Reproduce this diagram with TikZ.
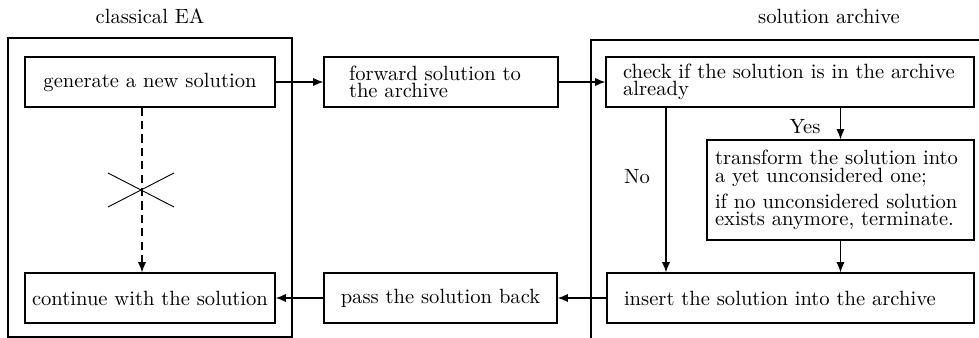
\documentclass[tikz,border=0pt]{standalone}
\usetikzlibrary{arrows.meta}
\def\px{0.4854pt}
\tikzset{
  box/.style={draw, line width=0.6pt, minimum height={50*\px}, inner ysep=0pt,
              font=\linespread{0.7}\selectfont},
  arr/.style={line width=0.6pt, -{Latex[length=5pt,width=4pt]}},
  lbl/.style={inner sep=0pt},
  frame/.style={line width=0.6pt},
}
\begin{document}
\begin{tikzpicture}[x=\px,y=-\px]
\clip (0,0) rectangle (979,338);
% titles
\node[lbl, anchor=base] (t1) at (150,24) {classical EA};
\node[lbl, anchor=base] (t2) at (829,24) {solution archive};
% containers
\draw[frame] (8,38) rectangle (292,337);
\draw[frame] (1100,40) -- (591,40) -- (591,345);
% nodes
\node[box, minimum width={250*\px}] (gen) at (150,82) {generate a new solution};
\node[box, minimum width={250*\px}] (cont) at (150,298) {continue with the solution};
\node[box, text width={184*\px}, inner xsep={25*\px}, align=left] (fwd) at (441,82)
  {forward solution to\\the archive};
\node[box, minimum width={233*\px}] (pass) at (440.5,298) {pass the solution back};
\node[box, text width={334*\px}, inner xsep={17*\px}, align=left] (chk) at (790,82)
  {check if the solution is in the archive\\already};
\node[box, text width={251*\px}, inner xsep={8*\px}, minimum height={100*\px}, align=left] (tr) at (840.5,190)
  {transform the solution into\\a yet unconsidered one;\\[2.6pt]if no unconsidered solution\\exists anymore, terminate.};
\node[box, text width={333*\px}, inner xsep={17*\px}, align=left] (ins) at (790.5,298)
  {insert the solution into the archive};
% connectors
\coordinate (nox) at (666,0);
\coordinate (dx) at (142,0);
\draw[arr] (gen) -- (fwd);
\draw[arr] (fwd) -- (chk);
\draw[arr] (chk.south -| nox) -- (ins.north -| nox);
\draw[arr] (chk.south -| tr.north) -- (tr.north);
\draw[arr] (tr.south) -- (tr.south |- ins.north);
\draw[arr] (ins) -- (pass);
\draw[arr] (pass) -- (cont);
\draw[arr, dash pattern=on 4pt off 2.5pt] (gen.south -| dx) -- (cont.north -| dx);
% cross
\coordinate (c1) at (108,173);
\coordinate (c2) at (174,207);
\coordinate (c3) at (108,207);
\coordinate (c4) at (174,173);
\draw[line width=0.45pt] (c1) -- (c2);
\draw[line width=0.45pt] (c3) -- (c4);
% labels
\node[lbl] (no) at (637,177) {No};
\node[lbl] (yes) at (805,127) {Yes};
\end{tikzpicture}
\end{document}
